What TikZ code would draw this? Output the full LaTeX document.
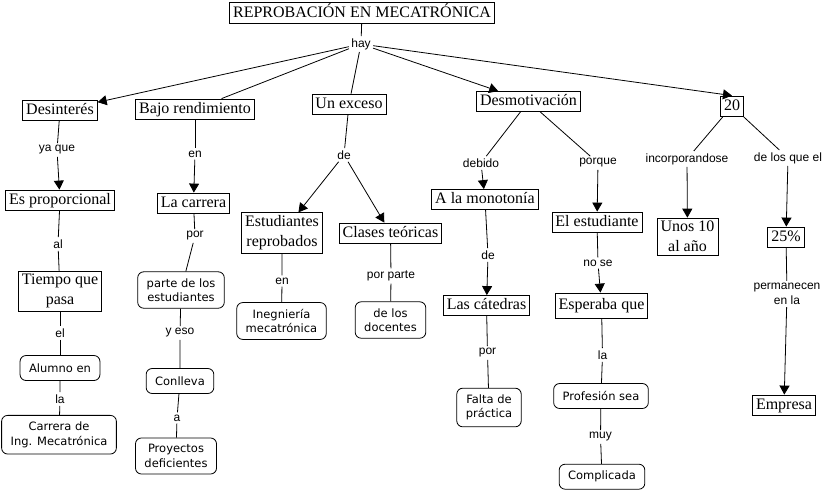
\documentclass[tikz,border=0pt]{standalone}
\usepackage{fontspec}
\usepackage{tikz}
\usetikzlibrary{arrows.meta}
\setmainfont{Liberation Serif}
\newfontfamily\lnkfont{Liberation Sans}
\newfontfamily\rndfont{DejaVu Sans}

\begin{document}
\begin{tikzpicture}[x=1pt, y=-1pt, line width=0.8pt,
  concepto/.style={rectangle, draw, font=\fontsize{16}{20}\selectfont, inner xsep=3.5pt, inner ysep=2.5pt, text height=11.5pt, text depth=3.5pt},
  concepto2/.style={rectangle, draw, align=center, font=\fontsize{16}{20}\selectfont, inner xsep=3.5pt, inner ysep=3pt},
  ovalo/.style={rectangle, rounded corners=6pt, draw, align=center, font=\rndfont\fontsize{11.5}{14.5}\selectfont, inner xsep=9pt, inner ysep=6.5pt, minimum height=25pt},
  enlace/.style={align=center, font=\lnkfont\fontsize{12}{15}\selectfont, inner sep=2pt},
  flecha/.style={-{Triangle[length=9pt,width=10pt]}}]
\useasboundingbox (0,0) rectangle (827,493);

% concepto principal
\node[concepto, text height=12.5pt] (tit) at (362,13) {REPROBACIÓN EN MECATRÓNICA};
\node[enlace] (hay) at (361,44) {hay};

% primer nivel
\node[concepto] (des) at (60,110.5) {Desinterés};
\node[concepto] (bajo) at (195,109) {Bajo rendimiento};
\node[concepto] (exc) at (349,104) {Un exceso};
\node[concepto] (desm) at (528.5,101.5) {Desmotivación};
\node[concepto] (vein) at (732,106) {20};

\draw (tit) -- (hay);
\draw[flecha] (hay) -- (des);
\draw (hay) -- (bajo);
\draw (hay) -- (exc);
\draw[flecha] (hay) -- (desm);
\draw[flecha] (hay) -- (vein.north);

% enlaces
\node[enlace] (yaque) at (57,150) {ya que};
\node[enlace] (en1) at (195,154) {en};
\node[enlace] (de1) at (344,155) {de};
\node[enlace] (debido) at (481,163) {debido};
\node[enlace] (porque) at (598,163) {porque};
\node[enlace] (incorp) at (687,159) {incorporandose};
\node[enlace] (delos) at (788,158) {de los que el};

% segundo nivel
\node[concepto] (prop) at (60,200) {Es proporcional};
\node[concepto] (carr) at (193.5,203) {La carrera};
\node[concepto2] (estu) at (282,233) {Estudiantes\\reprobados};
\node[concepto] (clas) at (390.5,233) {Clases teóricas};
\node[concepto] (mono) at (485,199.5) {A la monotonía};
\node[concepto] (elest) at (597,222) {El estudiante};
\node[concepto2] (unos) at (687.5,236.5) {Unos 10\\al año};
\node[concepto] (pct) at (786,237) {25\%};

\draw (des) -- (yaque);
\draw[flecha] (yaque) -- (prop);
\draw (bajo) -- (en1);
\draw[flecha] (en1) -- (carr);
\draw (exc) -- (de1);
\draw[flecha] (de1) -- (estu);
\draw[flecha] (de1) -- (clas);
\draw (desm) -- (debido);
\draw[flecha] (debido) -- (mono);
\draw (desm) -- (porque);
\draw[flecha] (porque) -- (elest);
\draw (vein) -- (incorp);
\draw[flecha] (incorp) -- (unos);
\draw (vein) -- (delos);
\draw[flecha] (delos) -- (pct);

% tercer nivel
\node[enlace] (al) at (58,244) {al};
\node[enlace] (por1) at (195,236) {por};
\node[enlace] (en2) at (282,281) {en};
\node[enlace] (porparte) at (391,276) {por parte};
\node[enlace] (de2) at (488,255) {de};
\node[enlace] (nose) at (598,263) {no se};
\node[enlace] (perm) at (787,294) {permanecen\\en la};

\node[concepto2] (tiem) at (60,291) {Tiempo que\\pasa};
\node[ovalo] (part) at (181,290) {parte de los\\estudiantes};
\node[ovalo] (inge) at (281.5,321) {Inegniería\\mecatrónica};
\node[ovalo] (doce) at (390.5,320) {de los\\docentes};
\node[concepto] (cate) at (486.5,305.5) {Las cátedras};
\node[concepto, inner ysep=5pt] (espe) at (601.5,305.5) {Esperaba que};
\node[concepto] (empr) at (784,405) {Empresa};

\draw (prop) -- (al) -- (tiem);
\draw (carr) -- (por1) -- (part);
\draw (estu) -- (en2) -- (inge);
\draw (clas) -- (porparte) -- (doce);
\draw (mono) -- (de2);
\draw[flecha] (de2) -- (cate);
\draw (elest) -- (nose);
\draw[flecha] (nose) -- (espe);
\draw (pct) -- (perm);
\draw[flecha] (perm) -- (empr);

% cuarto nivel
\node[enlace] (el) at (60,333) {el};
\node[enlace] (yeso) at (180,333) {y eso};
\node[enlace] (por2) at (487.5,353) {por};
\node[enlace] (la2) at (602.5,355) {la};

\node[ovalo] (alum) at (60,368) {Alumno en};
\node[ovalo] (conl) at (180,381) {Conlleva};
\node[ovalo] (falt) at (489,407.5) {Falta de\\práctica};
\node[ovalo] (prof) at (601,396) {Profesión sea};

\draw (tiem) -- (el) -- (alum);
\draw (part) -- (yeso) -- (conl);
\draw (cate) -- (por2) -- (falt);
\draw (espe) -- (la2) -- (prof);

% ultimo nivel
\node[enlace] (la1) at (60,399) {la};
\node[enlace] (a) at (177,418) {a};
\node[enlace] (muy) at (600.5,437) {muy};

\node[ovalo] (carre) at (59,434.7) {Carrera de\\Ing. Mecatrónica};
\node[ovalo] (proy) at (176,456) {Proyectos\\deficientes};
\node[ovalo] (comp) at (602,476.7) {Complicada};

\draw (alum) -- (la1) -- (carre);
\draw (conl) -- (a) -- (proy);
\draw (prof) -- (muy) -- (comp);
\end{tikzpicture}
\end{document}
